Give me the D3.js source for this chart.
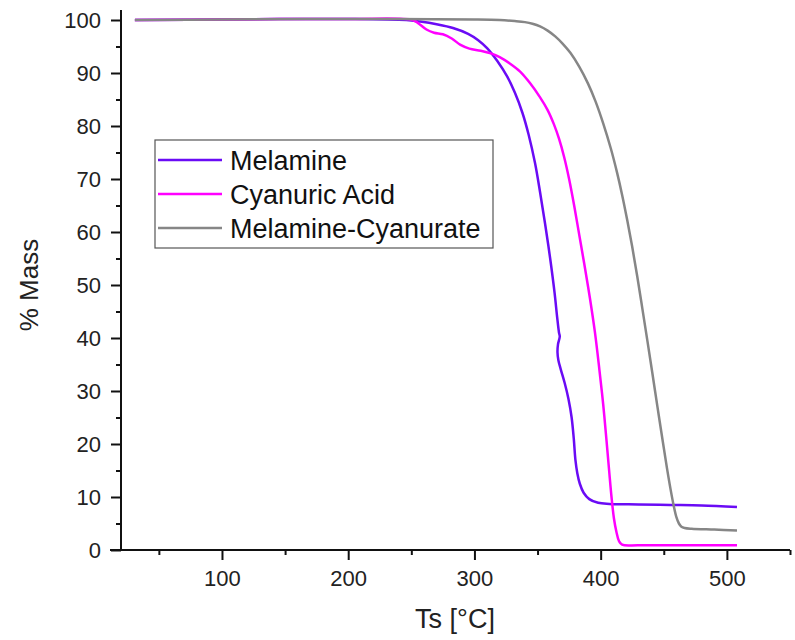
<!DOCTYPE html>
<html>
<head>
<meta charset="utf-8">
<script src="https://cdn.jsdelivr.net/npm/d3@7"></script>
<style>
  body { margin: 0; background: #fff; }
  svg { display: block; font-family: "Liberation Sans", Arial, sans-serif; }
</style>
</head>
<body>
<svg id="chart" width="795" height="640"></svg>
<script>
// temperature [°C], mass [%]
const melamine = [
  [31, 100], [100, 100.1], [200, 100.2], [246, 100], [257, 99.7], [270, 99.2],
  [283, 98.5], [295, 97.4], [303, 96.2], [310, 94.7], [318, 92.3], [326, 89.3],
  [332, 86.3], [338, 82.5], [343, 78.3], [348, 73], [352, 67.5], [356, 61.5],
  [360, 55], [363.5, 48.5], [365.5, 44], [367, 41], [367.6, 40.3], [366.2, 38.8],
  [365.8, 37.3], [366.5, 35.8], [368.5, 34], [371.5, 31.5], [374.5, 28.5], [377, 25],
  [378.7, 21], [380, 17], [381.5, 14.5], [383.5, 12.5], [386.5, 10.8], [391, 9.6],
  [398, 8.9], [407, 8.7], [430, 8.6], [455, 8.5], [480, 8.4], [508, 8.1]
];
const cyanuricAcid = [
  [31, 100], [100, 100.1], [200, 100.2], [251, 100], [256, 99.3], [262, 98.2],
  [268, 97.6], [275, 97.3], [282, 96.5], [289, 95.3], [296, 94.6], [305, 94.2],
  [313, 93.7], [320, 93], [328, 91.8], [336, 90.3], [344, 88.1], [352, 85.4],
  [358, 83], [363, 80.3], [367, 77.6], [371, 74.2], [375, 70], [379, 65],
  [383, 59.5], [387, 54], [391.5, 47.5], [395.5, 41], [399, 34], [402, 27.5],
  [404.5, 21], [406.7, 15], [408.6, 10], [410.5, 6], [412.5, 3.4], [414.5, 1.7],
  [417, 1.0], [430, 0.9], [470, 0.9], [508, 0.9]
];
const melamineCyanurate = [
  [31, 100], [100, 100.1], [200, 100.2], [300, 100.1], [320, 100], [332, 99.8],
  [340, 99.6], [346, 99.3], [352, 98.8], [358, 98], [364, 96.9], [370, 95.5],
  [376, 93.8], [383, 91.2], [390, 88], [396, 84.6], [402, 80.5], [408, 75.8],
  [413, 71.2], [417, 67], [421, 62.3], [425, 57.2], [429, 51.6], [433, 45.6],
  [437, 39.5], [441, 33.3], [445, 27], [449, 20.8], [452.5, 15.5], [455.5, 11.3],
  [458, 8.2], [460, 6.2], [462, 5], [464, 4.4], [466.5, 4.15], [472, 4.0],
  [490, 3.85], [508, 3.7]
];

const seriesNames = ["Melamine", "Cyanuric Acid", "Melamine-Cyanurate"];
const seriesData = [melamine, cyanuricAcid, melamineCyanurate];
const seriesColors = ["#6a0bf5", "#ff00ff", "#868686"];

const xTicks = [100, 200, 300, 400, 500];
const xMinorTicks = [50, 150, 250, 350, 450, 550];
const yTicks = [0, 10, 20, 30, 40, 50, 60, 70, 80, 90, 100];
const yMinorTicks = [5, 15, 25, 35, 45, 55, 65, 75, 85, 95];

const svg = d3.select("#chart");

const x = d3.scaleLinear().domain([20, 550]).range([121, 790]);
const y = d3.scaleLinear().domain([0, 100]).range([550, 20]);

// series
const line = d3.line()
  .x(d => x(d[0]))
  .y(d => y(d[1]))
  .curve(d3.curveCatmullRom.alpha(0.5));

svg.append("g")
  .selectAll("path")
  .data(seriesData)
  .join("path")
  .attr("fill", "none")
  .attr("stroke", (d, i) => seriesColors[i])
  .attr("stroke-width", 2.5)
  .attr("stroke-linejoin", "round")
  .attr("d", line);

// x axis
const xAxis = svg.append("g").attr("transform", `translate(0,${y(0)})`);
xAxis.call(d3.axisBottom(x).tickValues(xTicks).tickSize(10).tickPadding(10).tickSizeOuter(0));
xAxis.append("g")
  .call(d3.axisBottom(x).tickValues(xMinorTicks).tickSize(5).tickFormat("").tickSizeOuter(0))
  .select(".domain").remove();
xAxis.select(".domain").attr("d", `M${x(20) - 11},0H${x(550)}`);

// y axis
const yAxis = svg.append("g").attr("transform", `translate(${x(20)},0)`);
yAxis.call(d3.axisLeft(y).tickValues(yTicks).tickSize(10).tickPadding(10).tickSizeOuter(0));
yAxis.append("g")
  .call(d3.axisLeft(y).tickValues(yMinorTicks).tickSize(5).tickFormat("").tickSizeOuter(0))
  .select(".domain").remove();
yAxis.select(".domain").attr("d", `M0,${y(0)}V10`);

svg.selectAll(".tick line, .domain").attr("stroke", "#111").attr("stroke-width", 2);
svg.selectAll(".tick text").attr("font-size", 22).attr("fill", "#222")
  .attr("font-family", "Liberation Sans, Arial, sans-serif");

// axis titles
svg.append("text")
  .attr("x", 455).attr("y", 628)
  .attr("text-anchor", "middle")
  .attr("font-size", 27).attr("fill", "#222")
  .text("Ts [°C]");

svg.append("text")
  .attr("transform", "translate(38,285) rotate(-90)")
  .attr("text-anchor", "middle")
  .attr("font-size", 26).attr("fill", "#222")
  .text("% Mass");

// legend
const legend = svg.append("g");
legend.append("rect")
  .attr("x", 155).attr("y", 140).attr("width", 338).attr("height", 108)
  .attr("fill", "#fff").attr("stroke", "#555").attr("stroke-width", 1.2);

const items = legend.selectAll("g.item")
  .data(seriesNames)
  .join("g")
  .attr("class", "item")
  .attr("transform", (d, i) => `translate(0,${160 + i * 34})`);

items.append("line")
  .attr("x1", 158).attr("x2", 222)
  .attr("stroke", (d, i) => seriesColors[i])
  .attr("stroke-width", 2.5);

items.append("text")
  .attr("x", 230).attr("y", 9.5)
  .attr("font-size", 27).attr("fill", "#111")
  .text(d => d);
</script>
</body>
</html>
